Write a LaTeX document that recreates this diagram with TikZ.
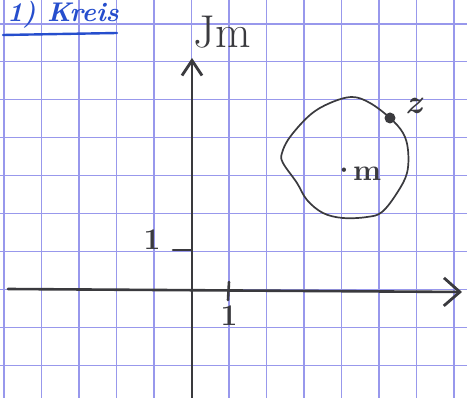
\documentclass[tikz,border=0pt]{standalone}
\usepackage{fontspec}
\usetikzlibrary{arrows.meta}
\definecolor{gridblue}{RGB}{152,152,236}
\definecolor{pencil}{RGB}{58,58,62}
\definecolor{inkblue}{RGB}{38,78,205}
\begin{document}
\begin{tikzpicture}[x=1pt,y=-1pt,
  gridline/.style={draw=gridblue,line width=1.1pt},
  axisline/.style={draw=pencil,line width=2.6pt,line cap=round},
  tickline/.style={draw=pencil,line width=2.6pt,line cap=round},
  curveline/.style={draw=pencil,line width=1.7pt},
  pencillabel/.style={text=pencil,inner sep=0pt},
]
\useasboundingbox (0,0) rectangle (467,398);
\fill[white] (0,0) rectangle (467,398);
% grid paper
\foreach \i in {0,...,12} \draw[gridline] ({4+37.5*\i},0) -- ++(0,398);
\foreach \j in {0,...,9} \draw[gridline] (0,{24+37.9*\j}) -- ++(467,0);
% title
\node[text=inkblue,inner sep=0pt,font=\fontsize{27}{27}\selectfont\itshape\bfseries] (title) at (63,15) {1) Kreis};
\coordinate (ul1) at (3,35);
\coordinate (ul2) at (117,33);
\draw[draw=inkblue,line width=2.4pt,line cap=round] (ul1) -- (ul2);
% axes
\coordinate (yb) at (192,398);
\coordinate (yt) at (192,58);
\draw[axisline,-{Straight Barb[length=15pt,width=20pt,line width=2.8pt]}] (yb) -- (yt);
\coordinate (xl) at (8,289);
\coordinate (xr) at (462,292);
\draw[axisline,-{Straight Barb[length=16pt,width=28pt,line width=2.8pt]}] (xl) -- (xr);
\node[pencillabel,font=\fontsize{46}{46}\selectfont] (im) at (222,32) {Jm};
% ticks
\coordinate (ty1) at (173,250);
\coordinate (ty2) at (191,250);
\draw[tickline] (ty1) -- (ty2);
\coordinate (tx1) at (229,282);
\coordinate (tx2) at (228,300);
\draw[tickline] (tx1) -- (tx2);
\node[pencillabel,font=\fontsize{30}{30}\selectfont\bfseries] (oney) at (152,240) {1};
\node[pencillabel,font=\fontsize{30}{30}\selectfont\bfseries] (onex) at (229,316) {1};
% circle
\draw[curveline] plot[smooth cycle,tension=0.6] coordinates {
  (352,97) (370,103) (390,118) (403,133) (408,150) (407,173) (397,193)
  (382,212) (367,217) (343,218) (323,213) (307,200) (297,183) (283,163)
  (282,153) (290,137) (310,115) (330,103)};
\node[circle,fill=pencil,minimum size=11pt,inner sep=0pt] (z) at (390,118) {};
\node[pencillabel,font=\fontsize{34}{34}\selectfont\itshape\bfseries] (zl) at (414,106) {z};
\node[pencillabel,font=\fontsize{30}{30}\selectfont\bfseries] (m) at (356,174) {·\kern-4pt m};
\end{tikzpicture}
\end{document}
